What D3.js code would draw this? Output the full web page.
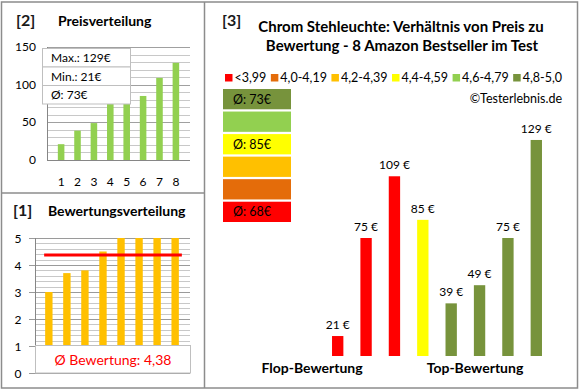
<!DOCTYPE html>
<style>* {padding:0; margin:0; border:0; outline:0;} body {background:#fff;}</style>
<body>
<script src="https://cdn.jsdelivr.net/npm/d3@7"></script>
<script>
// product data (order as in the right chart)
prices = [21, 75, 109, 85, 39, 49, 75, 129]
ratings = [3.0, 3.7, 3.8, 4.5, 5.0, 5.0, 5.0, 5.0]

// rating classes
classLabels = ["<3,99", "4,0-4,19", "4,2-4,39", "4,4-4,59", "4,6-4,79", "4,8-5,0"]
classLimits = [4.0, 4.2, 4.4, 4.6, 4.8]
classColors = ["#FF0000", "#E46C0A", "#FFC000", "#FFFF00", "#92D050", "#77933C"]

priceTicks = [0, 50, 100, 150]
ratingTicks = [0, 1, 2, 3, 4, 5]

font = "Lato, 'Open Sans', sans-serif"
width = 580
height = 390

classOf = d3.scaleThreshold().domain(classLimits).range(d3.range(6))
avgPrice = Math.round(d3.mean(prices))
avgRating = d3.mean(ratings)
sortedPrices = d3.sort(prices)
fmt = function(v){ return v.toFixed(2).replace(".", ",") }

svg = d3.select("body").append("svg")
    .attr("width", width)
    .attr("height", height)
    .style("font-family", font)

// frames
svg.append("rect").attr("x", 1.5).attr("y", 2).attr("width", 576).attr("height", 386)
   .attr("fill", "none").attr("stroke", "#8c8c8c").attr("stroke-width", 1.5)
svg.append("line").attr("x1", 204.5).attr("x2", 204.5).attr("y1", 2).attr("y2", 388)
   .attr("stroke", "#8c8c8c").attr("stroke-width", 1.5)
svg.append("line").attr("x1", 1.5).attr("x2", 204.5).attr("y1", 193).attr("y2", 193)
   .attr("stroke", "#8c8c8c").attr("stroke-width", 1.5)

function heading(x1, x2, y, num, label){
  svg.append("text").attr("x", x1).attr("y", y).text(num)
     .style("font-size", "16px").style("font-weight", "bold").attr("fill", "#1a1a1a")
  svg.append("text").attr("x", x2).attr("y", y).text(label)
     .style("font-size", "14px").style("font-weight", "bold").attr("fill", "#000")
}

// ---------- [2] Preisverteilung ----------
heading(16, 58, 26, "[2]", "Preisverteilung")

x2 = d3.scaleBand().domain(d3.range(1, 9)).range([48, 189]).padding(0.6)
y2 = d3.scaleLinear().domain([0, 150]).range([160, 47])

p2 = svg.append("g")
p2.selectAll("line.minor").data(d3.range(10, 151, 10)).enter().append("line")
  .attr("x1", 47).attr("x2", 190)
  .attr("y1", function(d){ return Math.round(y2(d)) + 0.5 })
  .attr("y2", function(d){ return Math.round(y2(d)) + 0.5 })
  .attr("stroke", function(d){ return d % 50 ? "#c8c8c8" : "#a0a0a0" })
p2.append("line").attr("x1", 47.5).attr("x2", 47.5).attr("y1", 47).attr("y2", 160)
  .attr("stroke", "#868686")
p2.append("line").attr("x1", 47).attr("x2", 190).attr("y1", 160.5).attr("y2", 160.5)
  .attr("stroke", "#868686")
p2.selectAll("text.yl").data(priceTicks).enter().append("text")
  .attr("x", 36).attr("y", function(d){ return y2(d) + 4 })
  .attr("text-anchor", "end").style("font-size", "12px").text(function(d){ return d })
p2.selectAll("rect.bar").data(sortedPrices).enter().append("rect")
  .attr("x", function(d, i){ return x2(i + 1) })
  .attr("y", function(d){ return y2(d) })
  .attr("width", x2.bandwidth())
  .attr("height", function(d){ return y2(0) - y2(d) })
  .attr("fill", "#92D050")
p2.selectAll("text.xl").data(x2.domain()).enter().append("text")
  .attr("x", function(d){ return x2(d) + x2.bandwidth() / 2 })
  .attr("y", 186).attr("text-anchor", "middle")
  .style("font-size", "12px").text(function(d){ return d })

info = ["Max.: " + d3.max(prices) + "€", "Min.: " + d3.min(prices) + "€", "Ø: " + avgPrice + "€"]
p2.selectAll("rect.info").data(info).enter().append("rect")
  .attr("x", 42.5).attr("y", function(d, i){ return 48.5 + i * 18.5 })
  .attr("width", 88).attr("height", 18.5)
  .attr("fill", "#fff").attr("stroke", "#bfbfbf")
p2.selectAll("text.info").data(info).enter().append("text")
  .attr("x", 51).attr("y", function(d, i){ return 62 + i * 18.5 })
  .style("font-size", "12px").text(function(d){ return d })

// ---------- [1] Bewertungsverteilung ----------
heading(13, 48, 216, "[1]", "Bewertungsverteilung")

x1 = d3.scaleBand().domain(d3.range(8)).range([34.5, 189.5]).padding(0.59)
y1 = d3.scaleLinear().domain([0, 5]).range([373, 238])
sortedRatings = d3.sort(ratings)

p1 = svg.append("g")
p1.selectAll("line.grid").data(d3.range(0, 5.01, 0.2)).enter().append("line")
  .attr("x1", function(d){ return Math.abs(d - Math.round(d)) < 0.01 ? 29 : 35 })
  .attr("x2", 190)
  .attr("y1", function(d){ return Math.round(y1(d)) + 0.5 })
  .attr("y2", function(d){ return Math.round(y1(d)) + 0.5 })
  .attr("stroke", function(d){ return Math.abs(d - Math.round(d)) < 0.01 ? "#9a9a9a" : "#c8c8c8" })
p1.append("line").attr("x1", 35.5).attr("x2", 35.5).attr("y1", 238).attr("y2", 373)
  .attr("stroke", "#868686")
p1.selectAll("text.yl").data(ratingTicks).enter().append("text")
  .attr("x", 18).attr("y", function(d){ return y1(d) + 4.5 })
  .attr("text-anchor", "middle").style("font-size", "12px").text(function(d){ return d })
p1.selectAll("rect.bar").data(sortedRatings).enter().append("rect")
  .attr("x", function(d, i){ return x1(i) })
  .attr("y", function(d){ return y1(d) })
  .attr("width", x1.bandwidth())
  .attr("height", function(d){ return y1(0) - y1(d) })
  .attr("fill", "#FFC000")
p1.append("line")
  .attr("x1", x1(0) - 1).attr("x2", x1(7) + x1.bandwidth() + 3)
  .attr("y1", y1(avgRating)).attr("y2", y1(avgRating))
  .attr("stroke", "#FF0000").attr("stroke-width", 3)
p1.append("rect").attr("x", 35.5).attr("y", 345.5).attr("width", 155).attr("height", 27.5)
  .attr("fill", "#fff").attr("stroke", "#bfbfbf")
p1.append("text").attr("x", 113).attr("y", 364.5).attr("text-anchor", "middle")
  .style("font-size", "14px").attr("fill", "#FF0000")
  .text("Ø Bewertung: " + fmt(avgRating))

// ---------- [3] Preis zu Bewertung ----------
svg.append("text").attr("x", 222).attr("y", 26).text("[3]")
   .style("font-size", "16px").style("font-weight", "bold").attr("fill", "#1a1a1a")
svg.append("text").attr("x", 401).attr("y", 32).attr("text-anchor", "middle")
   .style("font-size", "15px").style("font-weight", "bold")
   .text("Chrom Stehleuchte: Verhältnis von Preis zu")
svg.append("text").attr("x", 402).attr("y", 51).attr("text-anchor", "middle")
   .style("font-size", "15px").style("font-weight", "bold")
   .text("Bewertung - 8 Amazon Bestseller im Test")

// legend, spread between x=225 and x=562
leg = svg.append("g")
items = classLabels.map(function(lab, i){
  var g = leg.append("g")
  g.append("rect").attr("y", 74).attr("width", 7.5).attr("height", 7.5).attr("fill", classColors[i])
  var t = g.append("text").attr("x", 9.5).attr("y", 82).style("font-size", "12.5px").text(lab)
  return {g: g, w: 9.5 + t.node().getComputedTextLength()}
})
gap = (562 - 225 - d3.sum(items, function(d){ return d.w })) / (items.length - 1)
lx = 225
items.forEach(function(it){
  it.g.attr("transform", "translate(" + lx + ",0)")
  lx += it.w + gap
})
svg.append("text").attr("x", 562).attr("y", 103).attr("text-anchor", "end")
   .style("font-size", "12.5px").text("©Testerlebnis.de")

// class boxes with group averages
groups = d3.range(6).reverse().map(function(c){
  vals = prices.filter(function(p, i){ return classOf(ratings[i]) === c })
  return {c: c, avg: vals.length ? Math.round(d3.mean(vals)) : null}
})
yb = d3.scaleBand().domain(groups.map(function(g){ return g.c })).range([89, 222]).paddingInner(0.1)
svg.selectAll("rect.cls").data(groups).enter().append("rect")
  .attr("x", 223).attr("y", function(g){ return yb(g.c) })
  .attr("width", 68).attr("height", yb.bandwidth())
  .attr("fill", function(g){ return classColors[g.c] })
svg.selectAll("text.cls").data(groups.filter(function(g){ return g.avg !== null })).enter().append("text")
  .attr("x", 233).attr("y", function(g){ return yb(g.c) + yb.bandwidth() / 2 + 4.5 })
  .style("font-size", "12.5px").text(function(g){ return "Ø: " + g.avg + "€" })

// price bars
x3 = d3.scaleBand().domain(d3.range(8)).range([315, 559]).padding(0.6)
y3 = d3.scaleLinear().domain([10, 140]).range([356, 120])
svg.selectAll("rect.pb").data(prices).enter().append("rect")
  .attr("x", function(d, i){ return x3(i) })
  .attr("y", function(d){ return y3(d) })
  .attr("width", x3.bandwidth())
  .attr("height", function(d){ return y3(10) - y3(d) })
  .attr("fill", function(d, i){ return classColors[classOf(ratings[i])] })
svg.selectAll("text.pb").data(prices).enter().append("text")
  .attr("x", function(d, i){ return x3(i) + x3.bandwidth() / 2 })
  .attr("y", function(d){ return y3(d) - 7 })
  .attr("text-anchor", "middle").style("font-size", "12px")
  .text(function(d){ return d + " €" })

svg.append("text").attr("x", 312).attr("y", 373).attr("text-anchor", "middle")
   .style("font-size", "14px").style("font-weight", "bold").text("Flop-Bewertung")
svg.append("text").attr("x", 475).attr("y", 373).attr("text-anchor", "middle")
   .style("font-size", "14px").style("font-weight", "bold").text("Top-Bewertung")
</script>
